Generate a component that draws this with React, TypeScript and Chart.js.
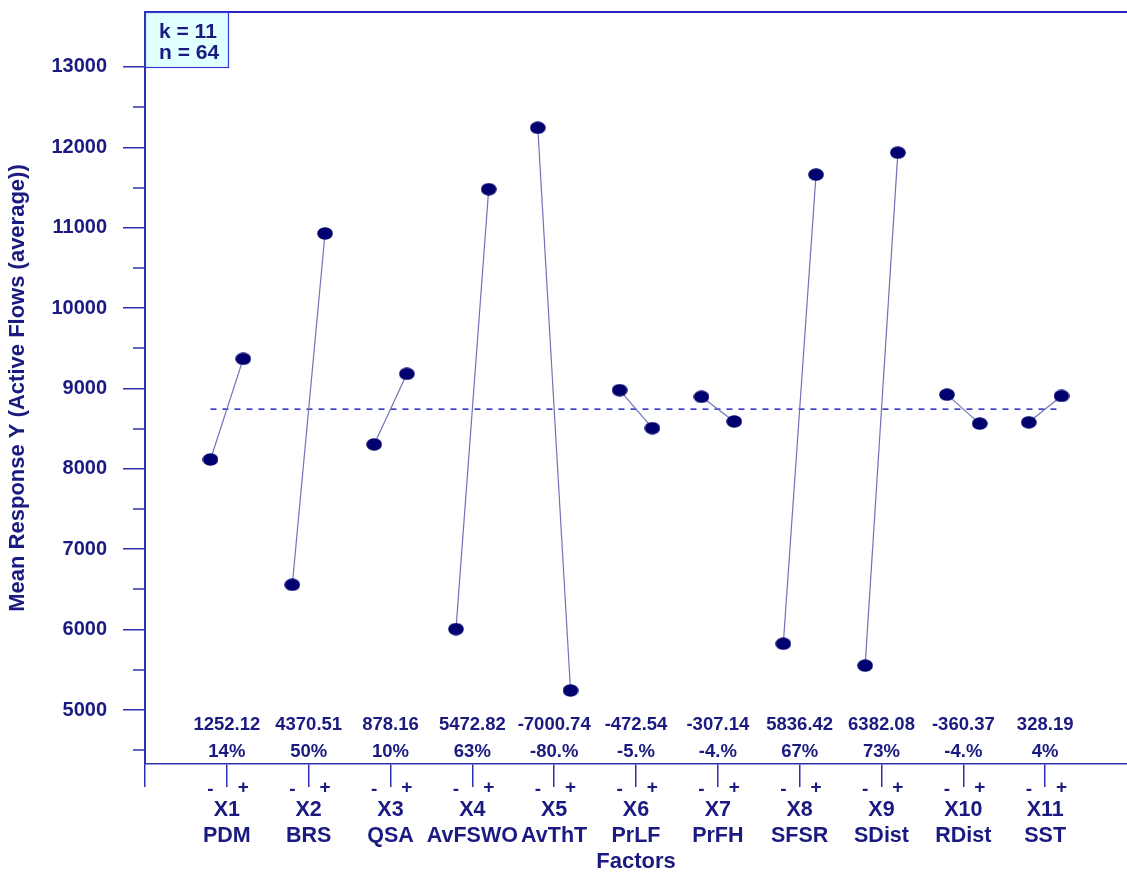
import React, { useEffect, useRef } from "react";
import { Chart, registerables } from "chart.js";

Chart.register(...registerables);

// Factors of the two-level design
const factorCodes = ["X1", "X2", "X3", "X4", "X5", "X6", "X7", "X8", "X9", "X10", "X11"];
const factorNames = ["PDM", "BRS", "QSA", "AvFSWO", "AvThT", "PrLF", "PrFH", "SFSR", "SDist", "RDist", "SST"];

// Mean response at the low (-) and high (+) level of each factor
const lowMeans = [8116.94, 6557.75, 8303.92, 6006.59, 12243.37, 8979.27, 8896.57, 5824.79, 5551.96, 8923.19, 8578.91];
const highMeans = [9369.06, 10928.26, 9182.08, 11479.41, 5242.63, 8506.73, 8589.43, 11661.21, 11934.04, 8562.82, 8907.1];

// Effect (high - low) and effect relative to the grand mean
const effectLabels = ["1252.12", "4370.51", "878.16", "5472.82", "-7000.74", "-472.54", "-307.14", "5836.42", "6382.08", "-360.37", "328.19"];
const percentLabels = ["14%", "50%", "10%", "63%", "-80.%", "-5.%", "-4.%", "67%", "73%", "-4.%", "4%"];

const grandMean = 8743;

const yTickValues = [5000, 6000, 7000, 8000, 9000, 10000, 11000, 12000, 13000];
const yMinorValues = [4500, 5500, 6500, 7500, 8500, 9500, 10500, 11500, 12500];
const runInfo = ["k = 11", "n = 64"];

const FONT = "'Liberation Sans', Arial, Helvetica, sans-serif";
const TEXT = "#1a1a80";
const AXIS = "#2e2eb0";
const SEGMENT = "#7272b8";
const MARK = "#00006e";
const LEVEL_OFFSET = 0.2;

function makeEllipse(): HTMLCanvasElement {
  const c = document.createElement("canvas");
  c.width = 16;
  c.height = 13;
  const g = c.getContext("2d")!;
  g.fillStyle = MARK;
  g.beginPath();
  g.ellipse(8, 6.5, 7.8, 6.2, 0, 0, Math.PI * 2);
  g.fill();
  return c;
}

// keep the plot area flush with the axes: no label overhang padding
function clearPadding(scale: any) {
  scale.paddingTop = 0;
  scale.paddingBottom = 0;
  scale.paddingLeft = 0;
  scale.paddingRight = 0;
}

const overlayPlugin = {
  id: "mainEffectsOverlay",
  afterDraw(chart: any) {
    const { ctx, chartArea, scales } = chart;
    const xs = scales.x;
    const ys = scales.y;
    ctx.save();

    // minor ticks on the response axis
    ctx.strokeStyle = AXIS;
    ctx.lineWidth = 1.5;
    yMinorValues.forEach((v) => {
      const py = Math.round(ys.getPixelForValue(v));
      ctx.beginPath();
      ctx.moveTo(chartArea.left - 12, py);
      ctx.lineTo(chartArea.left, py);
      ctx.stroke();
    });

    // effect and percent rows, level markers
    ctx.fillStyle = TEXT;
    ctx.textAlign = "center";
    ctx.textBaseline = "middle";
    factorCodes.forEach((_, i) => {
      const px = xs.getPixelForValue(i + 1);
      ctx.font = `bold 18.5px ${FONT}`;
      ctx.fillText(effectLabels[i], px, chartArea.bottom - 39);
      ctx.fillText(percentLabels[i], px, chartArea.bottom - 12);
      ctx.font = `bold 19px ${FONT}`;
      ctx.fillText("-", xs.getPixelForValue(i + 1 - LEVEL_OFFSET), chartArea.bottom + 26);
      ctx.fillText("+", xs.getPixelForValue(i + 1 + LEVEL_OFFSET), chartArea.bottom + 24);
    });

    // run information box
    const bx = chartArea.left;
    const by = chartArea.top;
    ctx.fillStyle = "#e0ffff";
    ctx.fillRect(bx, by, 83, 55);
    ctx.strokeStyle = "#3a3ad8";
    ctx.lineWidth = 1.2;
    ctx.strokeRect(bx + 0.5, by + 0.5, 83, 55);
    ctx.fillStyle = TEXT;
    ctx.textAlign = "left";
    ctx.textBaseline = "alphabetic";
    ctx.font = `bold 21px ${FONT}`;
    ctx.fillText(runInfo[0], bx + 14, by + 26);
    ctx.fillText(runInfo[1], bx + 14, by + 47);

    ctx.restore();
  },
};

export default function App() {
  const canvasRef = useRef<HTMLCanvasElement | null>(null);

  useEffect(() => {
    document.body.style.margin = "0";
    const canvas = canvasRef.current;
    if (!canvas) return;
    const ellipse = makeEllipse();

    const factorSets = factorCodes.map((code, i) => ({
      label: code,
      data: [
        { x: i + 1 - LEVEL_OFFSET, y: lowMeans[i] },
        { x: i + 1 + LEVEL_OFFSET, y: highMeans[i] },
      ],
      showLine: true,
      borderColor: SEGMENT,
      borderWidth: 1.2,
      pointStyle: ellipse,
      pointRadius: 8,
      order: 0,
    }));

    const meanSet = {
      label: "mean",
      data: [
        { x: 1 - LEVEL_OFFSET, y: grandMean },
        { x: factorCodes.length + LEVEL_OFFSET, y: grandMean },
      ],
      showLine: true,
      borderColor: "#2a2ab8",
      borderWidth: 1.5,
      borderDash: [6, 6],
      pointRadius: 0,
      order: 5,
    };

    const chart = new Chart(canvas, {
      type: "scatter",
      data: { datasets: [meanSet as any, ...factorSets] },
      options: {
        responsive: false,
        animation: false,
        events: [],
        layout: { padding: 0, autoPadding: false },
        plugins: { legend: { display: false }, tooltip: { enabled: false } },
        scales: {
          x: {
            type: "linear",
            position: "bottom",
            min: 0,
            max: factorCodes.length + 1,
            afterBuildTicks: (scale: any) => {
              scale.ticks = [0, ...factorCodes.map((_, i) => i + 1)].map((v) => ({ value: v }));
            },
            afterFit: (scale: any) => {
              scale.height = 875 - 764;
              clearPadding(scale);
            },
            grid: { drawOnChartArea: false, drawTicks: true, tickLength: 23, color: AXIS, lineWidth: 1.5 },
            border: { display: true, color: AXIS, width: 1.5 },
            ticks: {
              autoSkip: false,
              maxRotation: 0,
              minRotation: 0,
              padding: 10,
              color: TEXT,
              font: { family: FONT, size: 21.5, weight: "bold", lineHeight: 1.2 },
              callback: (v: any) => {
                const i = Number(v) - 1;
                return i >= 0 && i < factorCodes.length ? [factorCodes[i], factorNames[i]] : "";
              },
            },
            title: {
              display: true,
              text: "Factors",
              color: TEXT,
              font: { family: FONT, size: 22, weight: "bold" },
              padding: { top: 0, bottom: 0 },
            },
          },
          xTop: {
            type: "linear",
            position: "top",
            min: 0,
            max: factorCodes.length + 1,
            afterBuildTicks: (scale: any) => {
              scale.ticks = [];
            },
            afterFit: (scale: any) => {
              scale.height = 12;
              clearPadding(scale);
            },
            grid: { drawOnChartArea: false, drawTicks: false },
            border: { display: true, color: "#2424c0", width: 2 },
            ticks: { display: false },
          },
          y: {
            type: "linear",
            position: "left",
            min: 4328,
            max: 13684,
            afterBuildTicks: (scale: any) => {
              scale.ticks = yTickValues.map((v) => ({ value: v }));
            },
            afterFit: (scale: any) => {
              scale.width = 145;
              clearPadding(scale);
            },
            grid: { drawOnChartArea: false, drawTicks: true, tickLength: 22, color: AXIS, lineWidth: 1.5 },
            border: { display: true, color: AXIS, width: 2 },
            ticks: {
              padding: 16,
              color: TEXT,
              font: { family: FONT, size: 20, weight: "bold" },
              callback: (v: any) => String(v),
            },
            title: {
              display: true,
              text: "Mean Response Y (Active Flows (average))",
              color: TEXT,
              font: { family: FONT, size: 22, weight: "bold" },
              padding: { top: 5, bottom: 0 },
            },
          },
        },
      },
      plugins: [overlayPlugin],
    });

    return () => chart.destroy();
  }, []);

  return (
    <div style={{ width: 1127, height: 875, background: "#ffffff" }}>
      <canvas ref={canvasRef} width={1127} height={875} style={{ display: "block" }} />
    </div>
  );
}
